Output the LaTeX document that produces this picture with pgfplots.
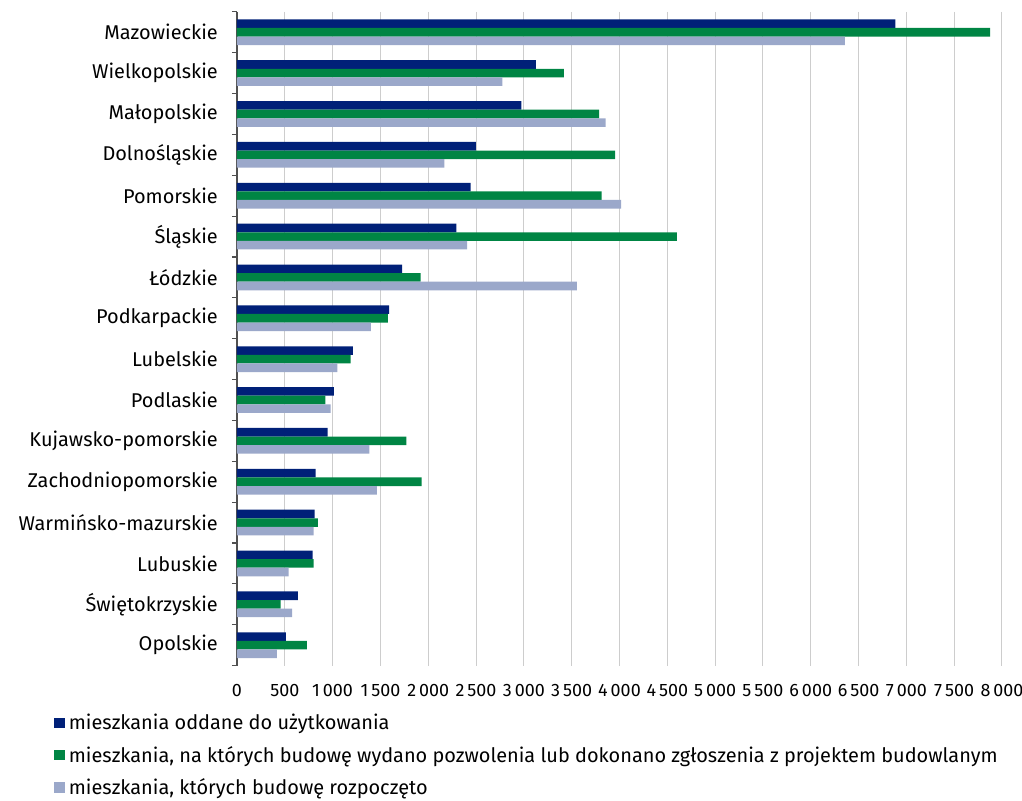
\documentclass[border=0pt]{standalone}
\usepackage{fontspec}
\setmainfont{Fira Sans}
\usepackage{pgfplots}
\pgfplotsset{compat=1.18}

\definecolor{ciemny}{RGB}{0,32,120}
\definecolor{zielony}{RGB}{0,133,68}
\definecolor{jasny}{RGB}{155,168,202}
\definecolor{siatka}{RGB}{205,205,205}
\definecolor{os}{RGB}{80,80,80}

\begin{document}
\begin{tikzpicture}[font=\fontsize{20}{23}\selectfont]
\useasboundingbox (-237bp,-134.6bp) rectangle (785bp,665.6bp);
\begin{axis}[
    at={(0,0)}, anchor=south west,
    scale only axis,
    width=765bp, height=653.8bp,
    xbar=0pt, bar width=0.21,
    y dir=reverse,
    xmin=0, xmax=8000,
    ymin=-0.5, ymax=15.5,
    axis y line*=left, axis x line*=bottom,
    axis line style={-},
    x axis line style={draw=none},
    y axis line style={draw=os, line width=1.2bp},
    xtick={0,500,...,8000},
    scaled x ticks=false,
    xmajorgrids,
    major x grid style={draw=siatka, line width=1bp},
    /pgf/number format/.cd, 1000 sep={\,}, assume math mode=true, /pgfplots/.cd,
    xticklabel style={yshift=-15bp, font=\fontsize{18}{21}\selectfont},
    ytick={0,...,15},
    minor ytick={-0.5,0.5,...,15.5},
    tick align=outside,
    major tick length=0pt,
    minor tick length=5bp,
    minor tick style={draw=os, line width=1.2bp},
    yticklabel style={inner xsep=0pt, xshift=-19bp},
    yticklabels={Mazowieckie, Wielkopolskie, Małopolskie\hspace{5bp}, Dolnośląskie,
        Pomorskie\hspace{5bp}, Śląskie\hspace{10bp}, Łódzkie, Podkarpackie, Lubelskie,
        Podlaskie, Kujawsko-pomorskie\hspace{5bp}, Zachodniopomorskie\hspace{5bp},
        Warmińsko-mazurskie\hspace{10bp}, Lubuskie, Świętokrzyskie\hspace{5bp}, Opolskie},
    legend cell align=left,
    legend style={at={(axis description cs:0,0)}, anchor=north west,
        xshift=-183bp, yshift=-46.5bp, draw=none, fill=none, inner sep=0pt,
        row sep=11bp, nodes={inner xsep=4bp}},
    legend image code/.code={\fill[#1] (0bp,-5.3bp) rectangle (10.7bp,5.3bp);},
]
\addplot[fill=ciemny, draw=none] coordinates {
    (6885,0) (3126,1) (2974,2) (2498,3) (2444,4) (2294,5) (1728,6) (1591,7)
    (1213,8) (1014,9) (948,10) (822,11) (811,12) (790,13) (636,14) (511,15)
};
\addplot[fill=zielony, draw=none] coordinates {
    (7875,0) (3419,1) (3786,2) (3953,3) (3812,4) (4599,5) (1920,6) (1577,7)
    (1189,8) (923,9) (1770,10) (1930,11) (846,12) (801,13) (455,14) (731,15)
};
\addplot[fill=jasny, draw=none] coordinates {
    (6357,0) (2775,1) (3854,2) (2168,3) (4018,4) (2406,5) (3553,6) (1399,7)
    (1049,8) (979,9) (1385,10) (1462,11) (801,12) (539,13) (577,14) (416,15)
};
\legend{mieszkania oddane do użytkowania,
    {mieszkania, na których budowę wydano pozwolenia lub dokonano zgłoszenia z projektem budowlanym},
    {mieszkania, których budowę rozpoczęto}}
\end{axis}
\end{tikzpicture}
\end{document}
